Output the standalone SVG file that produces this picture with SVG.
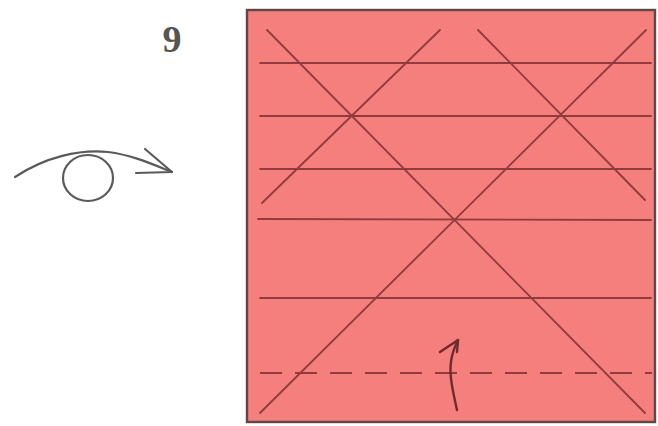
<svg xmlns="http://www.w3.org/2000/svg" width="658" height="426" viewBox="0 0 658 426">
<style>
.crease{stroke:#923b3c;stroke-width:1.8;fill:none;stroke-linecap:round}
.dash{stroke:#923b3c;stroke-width:2;fill:none;stroke-dasharray:22 13}
.ink{stroke:#5a5a5a;stroke-width:2.2;fill:none;stroke-linecap:round;stroke-linejoin:round}
.arrow{stroke:#6e2a2c;stroke-width:2.4;fill:none;stroke-linecap:round;stroke-linejoin:round}
</style>
<rect width="658" height="426" fill="#ffffff"/>
<g id="step-number">
<text x="172" y="52" font-family="Liberation Serif, serif" font-weight="bold" font-size="38" fill="#555555" text-anchor="middle">9</text>
</g>
<g id="turn-over-symbol">
<path class="ink" d="M15,177 C45,157 80,149 108,152 C132,155 152,164 172,172"/>
<path class="ink" d="M145,149 L172,172 L136,173"/>
<ellipse class="ink" cx="88" cy="178" rx="25" ry="23"/>
</g>
<g id="paper">
<rect x="247" y="10" width="408" height="412" fill="#f47f7c" stroke="#5e4746" stroke-width="2.4"/>
</g>
<g id="creases">
<line class="crease" x1="260" y1="63" x2="651" y2="63"/>
<line class="crease" x1="260" y1="116" x2="651" y2="116"/>
<line class="crease" x1="260" y1="169" x2="651" y2="169"/>
<line class="crease" x1="258" y1="219" x2="651" y2="220"/>
<line class="crease" x1="260" y1="298" x2="651" y2="298"/>
<line class="crease" x1="267" y1="30" x2="645" y2="413"/>
<line class="crease" x1="646" y1="30" x2="260" y2="413"/>
<line class="crease" x1="440" y1="30" x2="262" y2="203"/>
<line class="crease" x1="478" y1="30" x2="645" y2="200"/>
<line class="dash" x1="260" y1="373" x2="652" y2="373"/>
</g>
<g id="fold-arrow">
<path class="arrow" d="M457,410 C453,392 449,375 451,362 C452,352 455,346 458,340"/>
<path class="arrow" d="M440,352 L458,340 L457,352"/>
</g>
</svg>
